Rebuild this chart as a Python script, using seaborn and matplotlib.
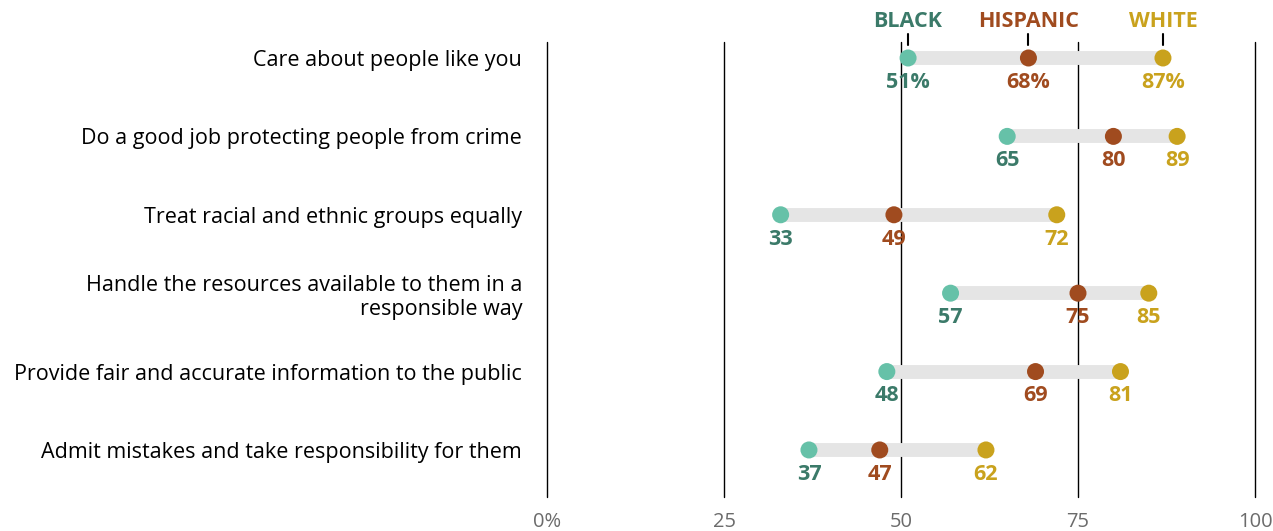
import matplotlib
matplotlib.use("Agg")
import matplotlib.pyplot as plt
import seaborn as sns
import pandas as pd

# Share of adults who say police officers do each of the following well
items = [
    "Care about people like you",
    "Do a good job protecting people from crime",
    "Treat racial and ethnic groups equally",
    "Handle the resources available to them in a\nresponsible way",
    "Provide fair and accurate information to the public",
    "Admit mistakes and take responsibility for them",
]
groups = ["BLACK", "HISPANIC", "WHITE"]
black = [51, 65, 33, 57, 48, 37]
hispanic = [68, 80, 49, 75, 69, 47]
white = [87, 89, 72, 85, 81, 62]
x_ticks = [0, 25, 50, 75, 100]
x_tick_labels = ["0%", "25", "50", "75", "100"]

dot_colors = {"BLACK": "#66c1a8", "HISPANIC": "#a04b1f", "WHITE": "#c9a21d"}
text_colors = {"BLACK": "#3b7a69", "HISPANIC": "#a04b1f", "WHITE": "#c9a21d"}

rows = []
for i, item in enumerate(items):
    for g, vals in zip(groups, [black, hispanic, white]):
        rows.append({"item": item, "row": i, "group": g, "value": vals[i]})
df = pd.DataFrame(rows)

sns.set_theme(style="white")
plt.rcParams["font.family"] = ["Open Sans", "DejaVu Sans"]

fig = plt.figure(figsize=(12.73, 5.31), dpi=100)
ax = fig.add_axes([547 / 1273, 1 - 497 / 531, (1255 - 547) / 1273, (497 - 42) / 531])

# vertical reference lines
for t in x_ticks:
    ax.axvline(t, color="black", lw=1.0, zorder=1, clip_on=False)

# gray range bar between lowest and highest group
wide = df.pivot(index="row", columns="group", values="value")
ax.hlines(wide.index, wide.min(axis=1), wide.max(axis=1),
          color="#e5e5e5", lw=10, zorder=2)

sns.scatterplot(data=df, x="value", y="row", hue="group", palette=dot_colors,
                hue_order=groups, s=150, edgecolor="none", legend=False,
                ax=ax, zorder=3)

# value labels under each dot
for _, r in df.iterrows():
    label = f"{r['value']}%" if r["row"] == 0 else f"{r['value']}"
    ax.text(r["value"], r["row"] + 0.31, label, ha="center", va="center",
            fontsize=15.5, fontweight="bold", color=text_colors[r["group"]],
            zorder=4)

# group headers above the first row
for g in groups:
    v = wide.loc[0, g]
    ax.text(v, -0.47, g, ha="center", va="center", fontsize=15.5,
            fontweight="bold", color=text_colors[g], clip_on=False)
    ax.plot([v, v], [-0.30, -0.17], color="black", lw=1.5, clip_on=False,
            zorder=4)

ax.set_xlim(0, 100)
ax.set_ylim(5.6, -0.204)
ax.set_xticks(x_ticks)
ax.set_xticklabels(x_tick_labels, fontsize=14.5, color="#6b6b6b")
ax.set_yticks(range(len(items)))
ax.set_yticklabels(items, fontsize=15.5, color="black")
ax.tick_params(axis="y", length=0, pad=18)
ax.tick_params(axis="x", length=0, pad=11)
ax.set_xlabel("")
ax.set_ylabel("")
for s in ax.spines.values():
    s.set_visible(False)

fig.savefig("out.png", dpi=100)
